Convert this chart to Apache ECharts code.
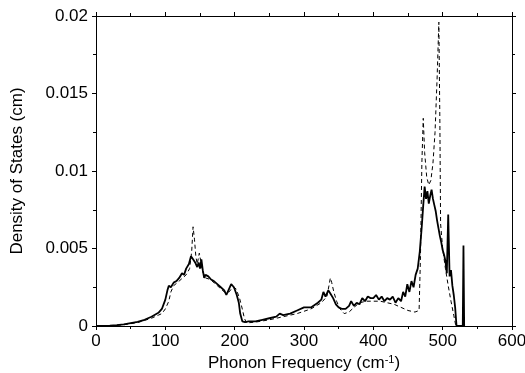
<!DOCTYPE html>
<html>
<head>
<meta charset="utf-8">
<script src="https://cdn.jsdelivr.net/npm/echarts@6/dist/echarts.min.js"></script>
<style>
html, body { margin: 0; padding: 0; background: #fff; }
#main { width: 525px; height: 373px; }
</style>
</head>
<body>
<div id="main"></div>
<script>
// 实线 (solid curve)
var freqSolid = [0, 10, 20, 30, 40, 50, 60, 70, 80, 90, 95, 100, 103, 105, 108, 112, 116, 120, 124, 127,
	130, 134, 137, 140, 143, 146, 148, 150, 152, 154, 156, 158, 162, 166, 170, 175, 180, 185, 188, 191,
	195, 199, 203, 206, 208, 211, 215, 220, 230, 240, 250, 260, 265, 270, 280, 290, 300, 310, 320, 325,
	328, 331, 335, 338, 342, 346, 350, 355, 360, 365, 368, 372, 376, 380, 384, 388, 392, 396, 400, 404,
	408, 412, 416, 420, 424, 428, 432, 436, 440, 443, 446, 449, 452, 455, 458, 461, 464, 467, 470, 472,
	474, 476, 478, 480, 482, 484, 486, 488, 490, 492, 494, 496, 498, 500, 502, 504, 506, 508, 509, 510,
	512, 514, 516, 518, 520, 529, 530, 531];
var dosSolid = [0, 0, 0.00002, 0.00005, 0.0001, 0.00018, 0.00026, 0.0004, 0.0006, 0.00085, 0.0011, 0.0017, 0.0023, 0.0026, 0.0025, 0.0028, 0.0029, 0.0031, 0.0034, 0.0033,
	0.0037, 0.004, 0.0045, 0.0043, 0.0041, 0.0038, 0.0041, 0.0037, 0.0043, 0.0036, 0.0031, 0.0033, 0.0032, 0.003, 0.0029, 0.0027, 0.0025, 0.0023, 0.002, 0.0023,
	0.0027, 0.0025, 0.002, 0.0015, 0.0008, 0.0003, 0.00025, 0.0003, 0.0003, 0.0004, 0.0005, 0.0006, 0.0008, 0.0007, 0.0008, 0.001, 0.0012, 0.0012, 0.0015, 0.0017,
	0.0022, 0.0019, 0.0023, 0.0021, 0.0018, 0.0014, 0.0012, 0.0011, 0.0011, 0.0013, 0.0016, 0.0013, 0.0015, 0.0014, 0.0018, 0.0016, 0.0019, 0.0018, 0.0018, 0.002,
	0.0017, 0.0019, 0.0016, 0.0018, 0.0017, 0.0019, 0.0015, 0.0018, 0.0016, 0.0022, 0.0019, 0.0027, 0.0022, 0.0029, 0.0025, 0.0033, 0.0037, 0.0048, 0.0065, 0.0078,
	0.009, 0.0082, 0.0087, 0.0079, 0.0084, 0.0088, 0.0082, 0.0078, 0.0074, 0.0068, 0.0063, 0.0058, 0.0054, 0.0049, 0.0046, 0.0042, 0.0034, 0.0072, 0.0072, 0.0032,
	0.0036, 0.0026, 0.002, 0.0012, 0, 0, 0.0052, 0];

// 虚线 (dashed curve)
var freqDashed = [0, 20, 40, 60, 80, 90, 95, 100, 105, 108, 112, 120, 130, 135, 138, 140, 142, 144, 146, 149,
	151, 153, 158, 165, 175, 185, 192, 197, 202, 207, 211, 214, 217, 230, 250, 270, 290, 310, 325, 333,
	336, 338, 340, 343, 347, 352, 358, 365, 372, 380, 390, 400, 410, 420, 430, 440, 450, 460, 466, 468,
	470, 472, 474, 477, 480, 483, 486, 489, 492, 494.5, 496, 497, 500, 504, 508, 512, 516, 519];
var dosDashed = [0, 0.00001, 0.00008, 0.00022, 0.0005, 0.0007, 0.0008, 0.0011, 0.0016, 0.0022, 0.0026, 0.0029, 0.0033, 0.0037, 0.0048, 0.0064, 0.0056, 0.0045, 0.004, 0.0047,
	0.0042, 0.0036, 0.0031, 0.003, 0.0026, 0.0022, 0.0022, 0.0025, 0.0024, 0.0018, 0.0011, 0.0005, 0.0002, 0.00025, 0.0004, 0.0006, 0.0008, 0.0011, 0.0015, 0.0019,
	0.0026, 0.0031, 0.0028, 0.0022, 0.0016, 0.0011, 0.0008, 0.0009, 0.0012, 0.0015, 0.0016, 0.0016, 0.0016, 0.0015, 0.0014, 0.0012, 0.001, 0.0009, 0.001, 0.0045,
	0.0105, 0.0134, 0.0112, 0.0096, 0.0091, 0.0094, 0.0105, 0.0125, 0.016, 0.0196, 0.013, 0.0066, 0.005, 0.0037, 0.0026, 0.0016, 0.0007, 0];

function pairs(xs, ys) {
	var out = [];
	for (var i = 0; i < xs.length; i++) {
		out.push([xs[i], ys[i]]);
	}
	return out;
}

var fontFam = '"Liberation Sans", Arial, sans-serif';
var lineSt = { show: true, onZero: false, lineStyle: { color: '#000', width: 1 } };
var tickStyle = { show: true, inside: false, length: 4, lineStyle: { color: '#000', width: 1 } };
var minorStyle = { show: true, splitNumber: 2, length: 3, lineStyle: { color: '#000', width: 1 } };

var myChart = echarts.init(document.getElementById('main'));

myChart.setOption({
	backgroundColor: '#fff',
	animation: false,
	grid: { left: 96, right: 13, top: 16, bottom: 47, containLabel: false, outerBoundsMode: 'none' },
	xAxis: [{
			type: 'value',
			min: 0,
			max: 600,
			interval: 100,
			name: 'Phonon Frequency (cm{sup|-1})',
			nameLocation: 'middle',
			nameGap: 27,
			nameTextStyle: {
				color: '#000',
				fontSize: 17,
				fontFamily: fontFam,
				rich: { sup: { fontSize: 11, verticalAlign: 'top', color: '#000', fontFamily: fontFam } }
			},
			axisLine: lineSt,
			axisTick: tickStyle,
			minorTick: minorStyle,
			splitLine: { show: false },
			axisLabel: { color: '#000', fontSize: 17, fontFamily: fontFam, margin: 7 }
		},
		{
			type: 'value',
			position: 'top',
			min: 0,
			max: 600,
			interval: 100,
			axisLine: lineSt,
			axisTick: tickStyle,
			minorTick: minorStyle,
			splitLine: { show: false },
			axisLabel: { show: false }
		}
	],
	yAxis: [{
			type: 'value',
			min: 0,
			max: 0.02,
			interval: 0.005,
			name: 'Density of States (cm)',
			nameLocation: 'middle',
			nameGap: 70,
			nameTextStyle: { color: '#000', fontSize: 17, fontFamily: fontFam },
			axisLine: lineSt,
			axisTick: tickStyle,
			minorTick: minorStyle,
			splitLine: { show: false },
			axisLabel: { color: '#000', fontSize: 17, fontFamily: fontFam, margin: 8 }
		},
		{
			type: 'value',
			position: 'right',
			min: 0,
			max: 0.02,
			interval: 0.005,
			axisLine: lineSt,
			axisTick: tickStyle,
			minorTick: minorStyle,
			splitLine: { show: false },
			axisLabel: { show: false }
		}
	],
	series: [{
			name: 'dashed',
			type: 'line',
			symbol: 'none',
			data: pairs(freqDashed, dosDashed),
			lineStyle: { color: '#000', width: 1, type: [4, 3] }
		},
		{
			name: 'solid',
			type: 'line',
			symbol: 'none',
			data: pairs(freqSolid, dosSolid),
			lineStyle: { color: '#000', width: 1.8 }
		}
	]
});
</script>
</body>
</html>
